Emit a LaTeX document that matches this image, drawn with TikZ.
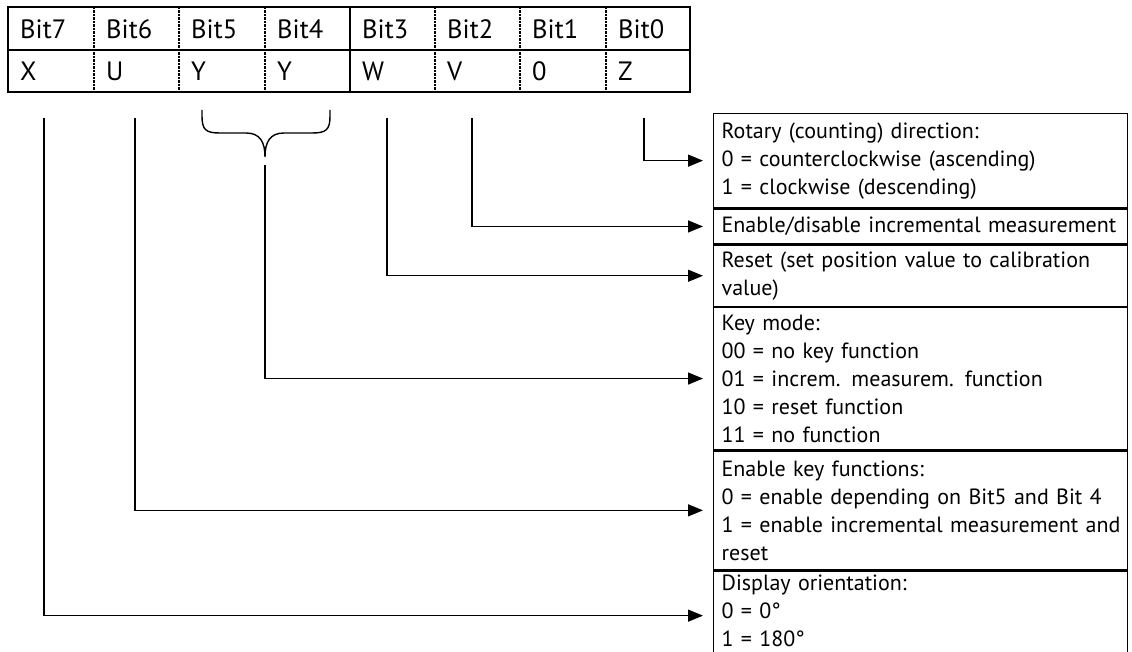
\documentclass[tikz,border=0pt]{standalone}
\usepackage{fontspec}
\setmainfont{PT Sans}
\usetikzlibrary{arrows.meta}
\begin{document}
\begin{tikzpicture}[x=1pt,y=-1pt,
  font=\fontsize{22}{28}\selectfont,
  frame/.style={line width=1.8pt},
  sepdash/.style={line width=1.6pt, dash pattern=on 2.5pt off 1pt},
  cell/.style={anchor=west, inner sep=0pt, font=\fontsize{26.5}{30}\selectfont},
  infobox/.style={draw, line width=1.3pt, anchor=north west, align=left,
    text width=398pt, inner xsep=8pt, inner ysep=0pt, minimum width=414pt},
  conn/.style={line width=1.4pt, -{Triangle[length=15pt,width=12pt]}, shorten >=10pt},
  wire/.style={line width=1.4pt}]
\useasboundingbox (0,0) rectangle (1132,652);
% table
\draw[frame] (8,7) rectangle (690,92);
\draw[frame] (8,50) -- (690,50);
\draw[frame] (350,7) -- (350,92);
\foreach \xx in {94,179,265,435,520,606} \draw[sepdash] (\xx,7) -- (\xx,92);
\foreach \xx/\t/\v [count=\i] in {8/Bit7/X,94/Bit6/U,179/Bit5/Y,265/Bit4/Y,350/Bit3/W,435/Bit2/V,520/Bit1/0,606/Bit0/Z}{
  \node[cell] (h\i) at (\xx+12,29) {\t};
  \node[cell] (v\i) at (\xx+12,71) {\v};
}
% boxes
\node[infobox, minimum height=94pt] (rot) at (713,113) {Rotary (counting) direction:\\0 = counterclockwise (ascending)\\1 = clockwise (descending)};
\node[infobox, minimum height=35pt] (inc) at (rot.south west) {\mbox{Enable/disable incremental measurement}};
\node[infobox, minimum height=61pt] (rst) at (inc.south west) {Reset (set position value to calibration\\value)};
\node[infobox, minimum height=142pt] (key) at (rst.south west) {Key mode:\\00 = no key function\\01 = increm. measurem. function\\10 = reset function\\11 = no function};
\node[infobox, minimum height=119pt] (ena) at (key.south west) {Enable key functions:\\\mbox{0 = enable depending on Bit5 and Bit 4}\\\mbox{1 = enable incremental measurement and}\\reset};
\node[infobox, minimum height=89pt] (dsp) at (ena.south west) {Display orientation:\\0 = 0°\\1 = 180°\par\nointerlineskip\hbox{\rule{0pt}{9pt}}};
% connector starts
\coordinate (b7) at (44,118);
\coordinate (b6) at (135,118);
\coordinate (b3) at (387,118);
\coordinate (b2) at (472,118);
\coordinate (b0) at (644,118);
\coordinate (bt) at (265,165);
% brace
\draw[wire] (202,110) -- (202,116) .. controls (202,130) and (206,133) .. (220,133) -- (246,133) .. controls (260,133) and (265,142) .. (265,157)
  .. controls (265,142) and (270,133) .. (284,133) -- (312,133) .. controls (326,133) and (330,130) .. (330,116) -- (330,110);
% connectors
\draw[conn] (b0) |- (rot.west);
\draw[conn] (b2) |- (inc.west);
\draw[conn] (b3) |- (rst.west);
\draw[conn] (bt) |- (key.west);
\draw[conn] (b6) |- (ena.west);
\draw[conn] (b7) |- (dsp.west);
\end{tikzpicture}
\end{document}
